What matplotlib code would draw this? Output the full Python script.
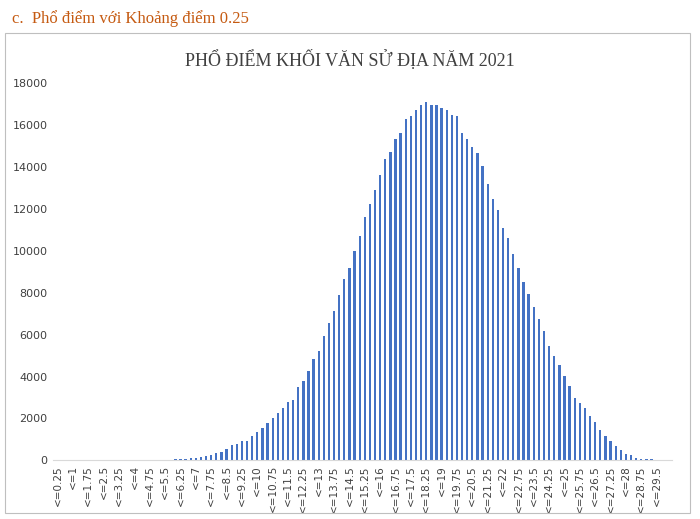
import matplotlib.pyplot as plt
from matplotlib.patches import Rectangle

# ── Data ─────────────────────────────────────────────────────────────────────
scores = [0.25 * (i + 1) for i in range(120)]
labels = [f"<={s:g}" for s in scores]

tail_low = [0, 0, 0, 5, 0, 0, 10, 0, 0, 15, 0, 0, 5, 10, 10, 15, 15, 20, 20, 25, 30, 35,
            40, 50, 60, 80, 100, 130, 160, 200]
rising = [240, 350, 400, 560, 720, 800, 930, 930, 1150, 1360, 1550, 1760, 2030, 2240,
          2480, 2800, 2880, 3490, 3790, 4270, 4850, 5230, 5920, 6530, 7140, 7900, 8640,
          9200, 10000, 10720, 11600]
peak_and_fall = [12240, 12880, 13600, 14400, 14690, 15330, 15630, 16290, 16430, 16720,
                 16960, 17090, 16960, 16960, 16830, 16720, 16480, 16450, 15630, 15330,
                 14960, 14640, 14050, 13200, 12450, 11920, 11090, 10590, 9840, 9200,
                 8530, 7920, 7310, 6720, 6190, 5470, 4990, 4530, 4030, 3550,
                 2990, 2720, 2480, 2110, 1810, 1470, 1150, 930, 670, 510,
                 320, 240, 130, 80, 50, 50, 30, 10, 10]
counts = tail_low + rising + peak_and_fall

# ── Plot ─────────────────────────────────────────────────────────────────────
fig = plt.figure(figsize=(7, 5.19), dpi=100)
fig.text(0.017, 0.965, "c.  Phổ điểm với Khoảng điểm 0.25", color="#C55A11",
         fontsize=12, family="Liberation Serif", va="center")
fig.patches.append(Rectangle((0.007, 0.012), 0.979, 0.925, transform=fig.transFigure,
                             fill=False, edgecolor="#BFBFBF", linewidth=0.8))

ax = fig.add_axes([0.075, 0.113, 0.885, 0.727])
ax.bar(range(len(counts)), counts, width=0.45, color="#4472C4")
ax.set_xlim(-1, 120)
ax.set_ylim(0, 18000)
ax.set_yticks(range(0, 18001, 2000))
ax.set_xticks(range(0, 120, 3))
ax.set_xticklabels(labels[::3], rotation=90, fontsize=7.5, color="#404040")
ax.tick_params(axis="y", labelsize=8, colors="#404040", length=0)
ax.tick_params(axis="x", length=0)
for s in ["top", "right", "left"]:
    ax.spines[s].set_visible(False)
ax.spines["bottom"].set_color("#D9D9D9")
fig.text(0.5, 0.885, "PHỔ ĐIỂM KHỐI VĂN SỬ ĐỊA NĂM 2021", ha="center", va="center",
         fontsize=13, family="Liberation Serif", color="#404040")

plt.savefig("out.png", dpi=100)
